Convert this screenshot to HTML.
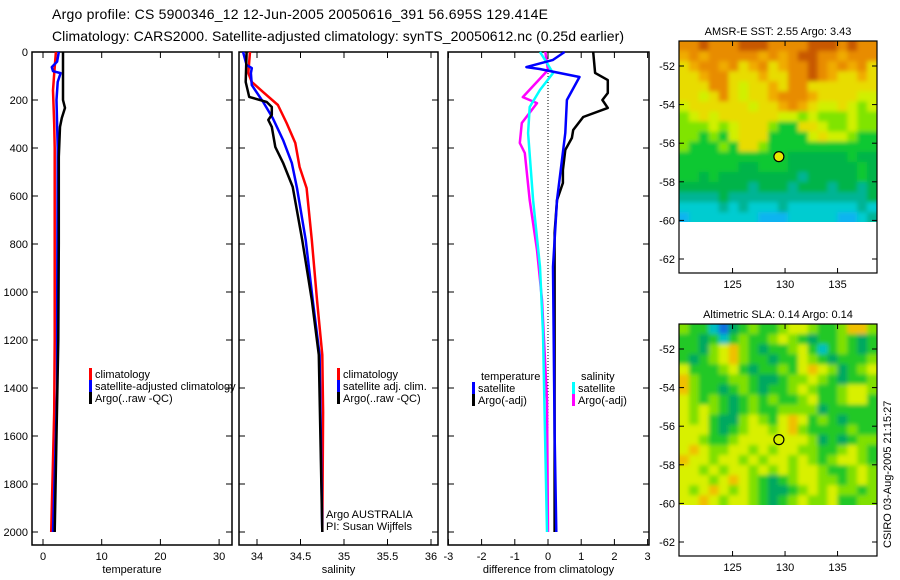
<!DOCTYPE html>
<html><head><meta charset="utf-8"><style>
html,body{margin:0;padding:0;background:#fff;}
svg{display:block;font-family:"Liberation Sans",sans-serif;}
</style></head><body>
<svg id="chart" width="900" height="580" viewBox="0 0 900 580" xmlns="http://www.w3.org/2000/svg">
<defs>
<filter id="soft" x="-5%" y="-5%" width="110%" height="110%"><feGaussianBlur stdDeviation="2.2"/></filter>
<clipPath id="clip1"><rect x="679" y="41" width="198" height="181"/></clipPath>
<clipPath id="clip2"><rect x="679" y="324" width="198" height="181"/></clipPath>
</defs>
<text x="52" y="19" font-size="14" textLength="496">Argo profile: CS 5900346_12 12-Jun-2005 20050616_391 56.695S 129.414E</text>
<text x="52" y="41" font-size="14" textLength="572">Climatology: CARS2000. Satellite-adjusted climatology: synTS_20050612.nc (0.25d earlier)</text>
<g id="panels"></g>
<g id="maps"></g>
<text transform="translate(891,548) rotate(-90)" font-size="11">CSIRO 03-Aug-2005 21:15:27</text>
</svg>
<script>
// ---------- data ----------
const depthTicks=[0,200,400,600,800,1000,1200,1400,1600,1800,2000];
const tempTicks=[0,10,20,30];
const salTicks=[34,34.5,35,35.5,36];
const diffTicks=[-3,-2,-1,0,1,2,3];
const diffTickLabels=["-3","-2","-1","0","1","2","3"];

const tempClimD=[0,90,160,300,400,1200,1500,1700,1900,2000];
const tempClimV=[2.2,1.9,1.7,1.9,2.0,2.0,1.9,1.7,1.5,1.4];
const tempSatD=[0,40,63,80,88,125,200,300,400,1200,1400,1600,2000];
const tempSatV=[2.7,2.4,1.5,1.7,3.0,2.5,2.3,2.4,2.5,2.4,2.4,2.2,1.7];
const tempArgoD=[0,200,233,275,312,437,800,1200,1600,2000];
const tempArgoV=[3.4,3.4,3.75,3.2,2.9,2.7,2.7,2.6,2.3,2.0];

const salClimD=[0,88,125,167,221,296,379,479,567,783,1033,1262,1500,2000];
const salClimV=[33.92,33.9,33.94,34.07,34.24,34.34,34.44,34.49,34.57,34.63,34.69,34.75,34.76,34.75];
const salSatD=[0,54,67,88,138,208,275,367,462,567,783,1033,1262,2000];
const salSatV=[33.84,33.88,33.94,33.93,33.94,34.07,34.18,34.3,34.4,34.46,34.56,34.64,34.72,34.75];
const salArgoD=[0,125,187,208,229,262,283,312,396,462,562,783,1033,1262,2000];
const salArgoV=[33.88,33.87,33.91,34.11,34.17,34.17,34.13,34.17,34.21,34.3,34.41,34.52,34.63,34.71,34.75];

const dTempSatD=[0,33,63,71,104,200,337,617,896,1588,2000];
const dTempSatV=[0.5,0.15,-0.65,-0.25,0.95,0.57,0.52,0.27,0.15,0.2,0.25];
const dTempArgoD=[0,87,117,171,200,233,271,325,358,408,492,546,617,754,1171,2000];
const dTempArgoV=[1.36,1.42,1.8,1.8,1.64,1.8,1.06,0.76,0.72,0.52,0.45,0.45,0.27,0.2,0.2,0.2];
const dSalSatD=[0,46,88,158,229,338,617,896,1171,2000];
const dSalSatV=[-0.24,-0.03,0.15,-0.24,-0.55,-0.6,-0.45,-0.24,-0.15,-0.03];
const dSalArgoD=[0,75,188,213,296,379,421,617,825,1033,1450,2000];
const dSalArgoV=[-0.08,0,-0.76,-0.33,-0.79,-0.85,-0.7,-0.55,-0.33,-0.18,-0.03,0];

const lonTicks=[125,130,135];
const latTicks=[-52,-54,-56,-58,-60,-62];
const argoLon=129.414, argoLat=-56.695;
const sstGrid=[
"OODOOODDDOOOODDDODOO","oOoOOOOOoOoODDOOoOOO","YoOOoOYoOYoOODOoOoOY","YYoOOYYYoYYOODOoYYoY",
"YYYOOYyYYoYOOYYYYYYY","YYyYOYyYYoOOOoYYYYyy","yYYYYYYyYYoOoYyyYyLy","LyYyYYYYYYyyLyLLLyLL",
"LLLyLyYYYLGGYYyLLyLL","LLGLGyYYYGGGGyYyyLGG","LGGGLGYYLGGGGGGGGGGG","GGGGGGGGGGGggggggGgg",
"GGGGGGggGGGgggggggGg","GGgGggggggggTgggggGg","gggggggTgggTgggTggTg","TTTTgTTTTTTTTTTTTTTg",
"CCCCTCTCCCTCCCCCCCTC","BCCCCCCCBBBCCCCCBBCT"];
const slaGrid=[
"LGGCBTGLGGLYYLGGLOOL","GGTGCGLGGLYLGTGGLGTG","GGTLYOLGTGGLYGCGLGTG","GTGLYOLGGTGGYLGTGGGL",
"YGGGLYGTGGLGYOYLTGLY","OLGGGLLGTTGLLYLGTGGL","OLGGTGLGTGGLYLGGLYYL","YLGLGTGLGLGGLYGGLYYG",
"YLYLGTGLGGLLLLTGGGGG","YLYGTTLYLGYOYGLGTGGG","YYYGTGLYYLYOLGGGGLGG","YYLGGLYYYYYYYLTGTGLL",
"YOYLLYYLYLYYLLGGLYLG","OYYLYYLYLYYLYLGLYYLG","YYLYLYYLYLYLYYLGGLYL","YYYLYOYLGTGLYYLLGLYL",
"YLYOYLYLGTTGLYLYLLGL","YYOYLYYLGTGLYLLYGGLL"];

// ---------- helpers ----------
const NS="http://www.w3.org/2000/svg";
function mk(tag,attrs,parent,text){const e=document.createElementNS(NS,tag);for(const k in attrs)e.setAttribute(k,attrs[k]);if(text!==undefined)e.textContent=text;parent.appendChild(e);return e;}
const TOP=52, PXD=0.24, BOT=545;
const yD=d=>TOP+d*PXD;
const panelsG=document.getElementById('panels');

function panel(name,x0,x1,xs,ticks,labels,xlabel,showDepthLabels){
  const g=mk('g',{},panelsG);
  
  
  const r=mk('rect',{x:x0,y:TOP,width:x1-x0,height:BOT-TOP,fill:'none',stroke:'#000','stroke-width':1.5},g);
  
  
  depthTicks.forEach(d=>{
    const y=yD(d);
    mk('line',{x1:x0,x2:x0+6,y1:y,y2:y,stroke:'#000'},g);
    mk('line',{x1:x1-6,x2:x1,y1:y,y2:y,stroke:'#000'},g);
    if(showDepthLabels){
      const t=mk('text',{x:x0-4,y:y+4,'font-size':11,'text-anchor':'end'},g,String(d));
      
      
    }
  });
  ticks.forEach((v,i)=>{
    const x=xs(v);
    mk('line',{x1:x,x2:x,y1:TOP,y2:TOP+6,stroke:'#000'},g);
    mk('line',{x1:x,x2:x,y1:BOT-6,y2:BOT,stroke:'#000'},g);
    const t=mk('text',{x:x,y:BOT+15,'font-size':11,'text-anchor':'middle'},g,labels[i]);
    
    
  });
  const xl=mk('text',{x:(x0+x1)/2,y:BOT+28,'font-size':11,'text-anchor':'middle'},g,xlabel);
  
  
  return g;
}
function line(g,xs,D,V,color,name,w){
  const pts=D.map((d,i)=>xs(V[i]).toFixed(1)+','+yD(d).toFixed(1)).join(' ');
  const p=mk('polyline',{points:pts,fill:'none',stroke:color,'stroke-width':w||2.5,'stroke-linejoin':'round'},g);
  
  
}
function legend(g,x,y,color,label,name){
  const e=mk('g',{},g);
  
  
  mk('rect',{x:x,y:y-10,width:3,height:12,fill:color},e);
  mk('text',{x:x+6,y:y,'font-size':11},e,label);
}

// temperature panel
const xT=v=>43+v*5.87;
const gT=panel('temperature-panel',32,232,xT,tempTicks,tempTicks.map(String),'temperature',true);
line(gT,xT,tempClimD,tempClimV,'#ff0000','temp-climatology-line');
line(gT,xT,tempSatD,tempSatV,'#0000ff','temp-satellite-line');
line(gT,xT,tempArgoD,tempArgoV,'#000000','temp-argo-line');
legend(gT,89,378,'#ff0000','climatology','legend-climatology');
legend(gT,89,390,'#0000ff','satellite-adjusted climatology','legend-satellite-adjusted');
legend(gT,89,402,'#000000','Argo(..raw -QC)','legend-argo');

// salinity panel
const xS=v=>257+(v-34)*87;
const gS=panel('salinity-panel',239,438,xS,salTicks,salTicks.map(String),'salinity',false);
line(gS,xS,salClimD,salClimV,'#ff0000','sal-climatology-line');
line(gS,xS,salSatD,salSatV,'#0000ff','sal-satellite-line');
line(gS,xS,salArgoD,salArgoV,'#000000','sal-argo-line');
legend(gS,337,378,'#ff0000','climatology','legend-climatology');
legend(gS,337,390,'#0000ff','satellite adj. clim.','legend-satellite');
legend(gS,337,402,'#000000','Argo(..raw -QC)','legend-argo');
const cr=mk('text',{x:326,y:518,'font-size':11},gS,'Argo AUSTRALIA');


const cr2=mk('text',{x:326,y:530,'font-size':11},gS,'PI: Susan Wijffels');



// difference panel
const xDf=v=>548+v*33.2;
const gD=panel('difference-panel',448,649,xDf,diffTicks,diffTickLabels,'difference from climatology',false);
const zl=mk('line',{x1:xDf(0),x2:xDf(0),y1:TOP,y2:yD(2000),stroke:'#000','stroke-dasharray':'1,2'},gD);


line(gD,xDf,dSalArgoD,dSalArgoV,'#ff00ff','diff-sal-argo-line');
line(gD,xDf,dSalSatD,dSalSatV,'#00ffff','diff-sal-satellite-line');
line(gD,xDf,dTempArgoD,dTempArgoV,'#000000','diff-temp-argo-line');
line(gD,xDf,dTempSatD,dTempSatV,'#0000ff','diff-temp-satellite-line');
const lt=mk('text',{x:481,y:380,'font-size':11},gD,'temperature');


legend(gD,472,392,'#0000ff','satellite','legend-temp-satellite');
legend(gD,472,404,'#000000','Argo(-adj)','legend-temp-argo');
const ls=mk('text',{x:581,y:380,'font-size':11},gD,'salinity');


legend(gD,572,392,'#00ffff','satellite','legend-sal-satellite');
legend(gD,572,404,'#ff00ff','Argo(-adj)','legend-sal-argo');

// ---------- maps ----------
const mapsG=document.getElementById('maps');
const sstCol={D:'#c85800',O:'#e88c00',o:'#f0ac00',Y:'#e8dc00',y:'#d0f000',L:'#80e400',G:'#10c830',g:'#00b448',T:'#00b494',C:'#00ccd0',B:'#10b4f0'};
const slaCol={T:'#00a860',G:'#20c828',L:'#80e000',Y:'#d8f000',y:'#f0e000',O:'#f0c000',C:'#00c0c0',B:'#1070e0'};
function mapPanel(name,top,title,grid,cols,fillCircle,clipId){
  const g=mk('g',{},mapsG);
  
  
  const X0=679,X1=877,lonL=119.9,pxLon=10.5;
  const lat52=top+25, pxLat=19.3;
  const xL=lo=>X0+(lo-lonL)*pxLon;
  const yL=la=>lat52+(-52-la)*pxLat;
  const yTop=top, yBot=top+232, yData=yL(-60.1);
  const rows=grid.length, ncol=grid[0].length;
  const cw=(X1-X0)/ncol, ch=(yData-yTop)/rows;
  const clipG=mk('g',{'clip-path':'url(#'+clipId+')'},g);
  const cells=mk('g',{filter:'url(#soft)'},clipG);
  
  
  for(let r=-1;r<=rows;r++)for(let c=-1;c<=ncol;c++){
    const rr=Math.min(rows-1,Math.max(0,r)), cc=Math.min(ncol-1,Math.max(0,c));
    mk('rect',{x:(X0+c*cw).toFixed(2),y:(yTop+r*ch).toFixed(2),width:(cw+0.6).toFixed(2),height:(ch+0.6).toFixed(2),fill:cols[grid[rr][cc]]},cells);
  }
  const fr=mk('rect',{x:X0,y:yTop,width:X1-X0,height:yBot-yTop,fill:'none',stroke:'#000','stroke-width':1.2},g);
  
  
  lonTicks.forEach(lo=>{const x=xL(lo);
    mk('line',{x1:x,x2:x,y1:yTop,y2:yTop+5,stroke:'#000'},g);
    mk('line',{x1:x,x2:x,y1:yBot-5,y2:yBot,stroke:'#000'},g);
    const t=mk('text',{x:x,y:yBot+15,'font-size':11,'text-anchor':'middle'},g,String(lo));
    
    
  });
  latTicks.forEach(la=>{const y=yL(la);
    mk('line',{x1:X0,x2:X0+5,y1:y,y2:y,stroke:'#000'},g);
    mk('line',{x1:X1-5,x2:X1,y1:y,y2:y,stroke:'#000'},g);
    const t=mk('text',{x:X0-4,y:y+4,'font-size':11,'text-anchor':'end'},g,String(la));
    
    
  });
  const tt=mk('text',{x:(X0+X1)/2,y:top-6,'font-size':11,'text-anchor':'middle'},g,title);
  
  
  const c=mk('circle',{cx:xL(argoLon),cy:yL(argoLat),r:5,fill:fillCircle,stroke:'#000','stroke-width':1.2},g);
  
  
}
mapPanel('sst-map',41,'AMSR-E SST: 2.55 Argo: 3.43',sstGrid,sstCol,'#e8e800','clip1');
mapPanel('sla-map',324,'Altimetric SLA: 0.14 Argo: 0.14',slaGrid,slaCol,'none','clip2');
</script>
</body></html>
